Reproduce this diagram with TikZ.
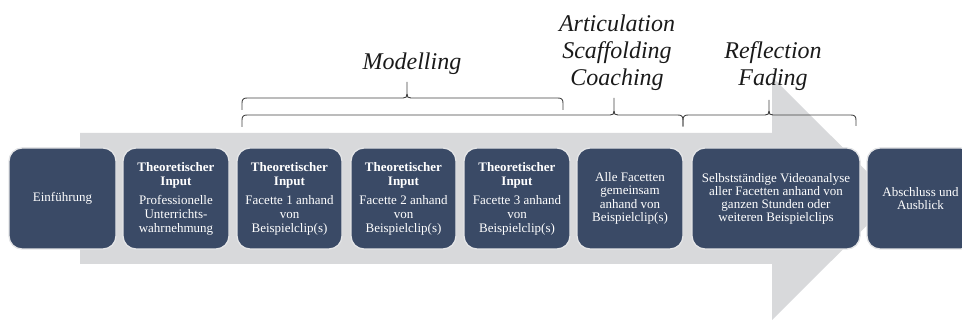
\documentclass[tikz,border=0pt]{standalone}
\usepackage{fontspec}
\setmainfont{Liberation Serif}
\definecolor{boxfill}{HTML}{3A4A66}
\definecolor{boxline}{HTML}{E4E5E7}
\definecolor{arrowgrey}{HTML}{D8D9DB}
\definecolor{bracecol}{HTML}{404040}
\definecolor{labcol}{HTML}{1A1A1A}
\newcommand{\Gbrace}[6]{%
  \draw[bracestyle] (#1,#6) -- (#1,#5+5) .. controls (#1,#5+1.5) and (#1+1.5,#5) .. (#1+5,#5)
    -- (#3-4,#5) .. controls (#3-1,#5) and (#3,#5-1) .. (#3,#5-4) -- (#3,#4);
  \draw[bracestyle] (#3,#5-4) .. controls (#3,#5-1) and (#3+1,#5) .. (#3+4,#5)
    -- (#2-5,#5) .. controls (#2-1.5,#5) and (#2,#5+1.5) .. (#2,#5+5) -- (#2,#6);
}
\tikzset{
  box/.style={rectangle, rounded corners=13pt, fill=boxfill, draw=boxline, line width=1.3pt,
    text=white, align=center, minimum height=101pt, inner sep=0pt,
    font=\fontsize{13}{14}\selectfont},
  lab/.style={anchor=base, inner sep=0pt, text=labcol, font=\fontsize{24}{27}\selectfont\itshape},
  bracestyle/.style={draw=bracecol, line width=0.9pt},
}
\begin{document}
\begin{tikzpicture}[x=1pt, y=-1pt]
\useasboundingbox (0,0) rectangle (962,323);
\clip (0,0) rectangle (962,323);
% big grey arrow
\fill[arrowgrey] (80,133) -- (772,133) -- (772,77) -- (894,198.5) -- (772,320) -- (772,264) -- (80,264) -- cycle;
% braces
\Gbrace{242}{563}{407}{82}{98}{110}
\Gbrace{242}{683}{614}{98}{115}{127}
\Gbrace{683}{856}{769}{100}{115}{126}
% labels
\node[lab] (mod) at (412,70) {Modelling};
\node[lab] (art) at (617,32) {Articulation};
\node[lab] (sca) at (617,59) {Scaffolding};
\node[lab] (coa) at (617,86) {Coaching};
\node[lab] (ref) at (773,59) {Reflection};
\node[lab] (fad) at (773,86) {Fading};
% boxes
\node[box, minimum width=107pt] (b1) at (62.5,198.5) {Einführung};
\node[box, minimum width=106pt] (b2) at (176,198.5) {\textbf{Theoretischer}\\\textbf{Input}\\[5pt]Professionelle\\Unterrichts-\\wahrnehmung};
\node[box, minimum width=105pt] (b3) at (289.5,198.5) {\textbf{Theoretischer}\\\textbf{Input}\\[5pt]Facette 1 anhand\\von\\Beispielclip(s)};
\node[box, minimum width=105pt] (b4) at (403.5,198.5) {\textbf{Theoretischer}\\\textbf{Input}\\[5pt]Facette 2 anhand\\von\\Beispielclip(s)};
\node[box, minimum width=106pt] (b5) at (517,198.5) {\textbf{Theoretischer}\\\textbf{Input}\\[5pt]Facette 3 anhand\\von\\Beispielclip(s)};
\node[box, minimum width=106pt, font=\fontsize{13}{13.5}\selectfont] (b6) at (630,198.5) {Alle Facetten\\gemeinsam\\anhand von\\Beispielclip(s)};
\node[box, minimum width=168pt, font=\fontsize{13}{13}\selectfont] (b7) at (776,198.5) {Selbstständige Videoanalyse\\aller Facetten anhand von\\ganzen Stunden oder\\weiteren Beispielclips};
\node[box, minimum width=107pt, font=\fontsize{13}{13}\selectfont] (b8) at (920.5,198.5) {Abschluss und\\Ausblick};
\end{tikzpicture}
\end{document}
